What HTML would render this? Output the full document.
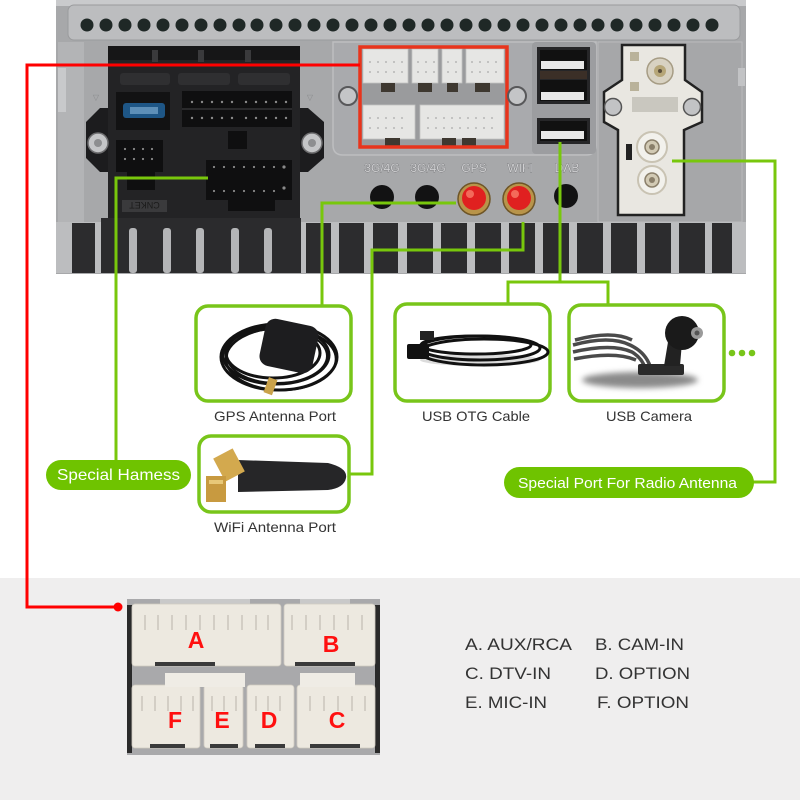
<!DOCTYPE html>
<html><head><meta charset="utf-8"><style>
html,body{margin:0;padding:0;background:#fff;}
svg{display:block;}
text{font-family:"Liberation Sans",Arial,sans-serif;}
</style></head><body>
<svg width="800" height="800" viewBox="0 0 800 800" xmlns="http://www.w3.org/2000/svg">
<defs>
<filter id="blur2" x="-20%" y="-50%" width="140%" height="200%"><feGaussianBlur stdDeviation="3"/></filter>
</defs>
<!-- bottom grey area -->
<rect x="0" y="578" width="800" height="222" fill="#efeeee"/>

<!-- ===== DEVICE ===== -->
<rect x="56" y="0" width="690" height="274" fill="#a7a8aa"/>
<rect x="56" y="0" width="690" height="6" fill="#c9cacc"/>
<rect x="68" y="5" width="672" height="35" rx="6" fill="#bcbdbf" stroke="#9a9b9d" stroke-width="1"/>
<g fill="#1f2826">
<circle cx="87" cy="25" r="6.5"/><circle cx="106" cy="25" r="6.5"/><circle cx="125" cy="25" r="6.5"/><circle cx="144" cy="25" r="6.5"/><circle cx="163" cy="25" r="6.5"/><circle cx="182" cy="25" r="6.5"/><circle cx="201" cy="25" r="6.5"/><circle cx="220" cy="25" r="6.5"/><circle cx="239" cy="25" r="6.5"/><circle cx="257" cy="25" r="6.5"/><circle cx="276" cy="25" r="6.5"/><circle cx="295" cy="25" r="6.5"/><circle cx="314" cy="25" r="6.5"/><circle cx="333" cy="25" r="6.5"/><circle cx="352" cy="25" r="6.5"/><circle cx="371" cy="25" r="6.5"/><circle cx="390" cy="25" r="6.5"/><circle cx="409" cy="25" r="6.5"/><circle cx="428" cy="25" r="6.5"/><circle cx="447" cy="25" r="6.5"/><circle cx="466" cy="25" r="6.5"/><circle cx="485" cy="25" r="6.5"/><circle cx="504" cy="25" r="6.5"/><circle cx="523" cy="25" r="6.5"/><circle cx="542" cy="25" r="6.5"/><circle cx="561" cy="25" r="6.5"/><circle cx="580" cy="25" r="6.5"/><circle cx="598" cy="25" r="6.5"/><circle cx="617" cy="25" r="6.5"/><circle cx="636" cy="25" r="6.5"/><circle cx="655" cy="25" r="6.5"/><circle cx="674" cy="25" r="6.5"/><circle cx="693" cy="25" r="6.5"/><circle cx="712" cy="25" r="6.5"/>
</g>
<!-- left light strip -->
<rect x="58" y="42" width="26" height="180" fill="#b3b4b6"/>
<rect x="58" y="68" width="8" height="44" fill="#c8c9cb"/>
<!-- recessed right panel -->
<path d="M333 42 H596 V145 Q596 155 586 155 H343 Q333 155 333 145 Z" fill="#a9aaad" stroke="#bdbec0" stroke-width="1.5"/>
<path d="M598 42 H742 V222 H598 Z" fill="#a6a7a9" stroke="#b9babc" stroke-width="1"/>
<rect x="738" y="68" width="7" height="18" fill="#c2c3c5"/>

<!-- left black block -->
<polygon points="100,108 308,108 324,122 324,158 308,172 100,172 86,158 86,122" fill="#1c1c1e"/>
<rect x="108" y="46" width="192" height="176" fill="#232325"/>
<rect x="108" y="46" width="192" height="14" fill="#161617"/>
<rect x="152" y="50" width="6" height="12" fill="#3a3a3c"/><rect x="198" y="50" width="6" height="12" fill="#3a3a3c"/><rect x="245" y="50" width="6" height="12" fill="#3a3a3c"/>
<rect x="120" y="73" width="50" height="12" rx="3" fill="#2f2f31"/><rect x="178" y="73" width="52" height="12" rx="3" fill="#2f2f31"/><rect x="238" y="73" width="52" height="12" rx="3" fill="#2f2f31"/>
<rect x="116" y="92" width="54" height="38" fill="#121213"/>
<rect x="123" y="103" width="42" height="15" rx="3" fill="#1e5686"/>
<rect x="130" y="107" width="28" height="7" fill="#5d8fb8"/>
<rect x="182" y="91" width="110" height="36" fill="#0f0f10"/>
<line x1="182" y1="109" x2="292" y2="109" stroke="#2a2a2c" stroke-width="2"/>
<g fill="#8a8a8a">
<circle cx="192" cy="102" r="1.2"/><circle cx="202" cy="102" r="1.2"/><circle cx="212" cy="102" r="1.2"/><circle cx="222" cy="102" r="1.2"/><circle cx="232" cy="102" r="1.2"/><circle cx="246" cy="102" r="1.2"/><circle cx="256" cy="102" r="1.2"/><circle cx="266" cy="102" r="1.2"/><circle cx="276" cy="102" r="1.2"/><circle cx="286" cy="102" r="1.2"/>
<circle cx="192" cy="118" r="1.2"/><circle cx="202" cy="118" r="1.2"/><circle cx="212" cy="118" r="1.2"/><circle cx="222" cy="118" r="1.2"/><circle cx="232" cy="118" r="1.2"/><circle cx="246" cy="118" r="1.2"/><circle cx="256" cy="118" r="1.2"/><circle cx="266" cy="118" r="1.2"/><circle cx="276" cy="118" r="1.2"/><circle cx="286" cy="118" r="1.2"/>
</g>
<rect x="228" y="131" width="19" height="18" fill="#0f0f10"/>
<rect x="116" y="140" width="47" height="32" fill="#0f0f10"/>
<rect x="127" y="172" width="28" height="18" fill="#0f0f10"/>
<g fill="#8a8a8a"><circle cx="125" cy="149" r="1.1"/><circle cx="134" cy="149" r="1.1"/><circle cx="143" cy="149" r="1.1"/><circle cx="152" cy="149" r="1.1"/><circle cx="125" cy="159" r="1.1"/><circle cx="134" cy="159" r="1.1"/><circle cx="143" cy="159" r="1.1"/><circle cx="152" cy="159" r="1.1"/></g>
<rect x="206" y="160" width="86" height="40" fill="#0f0f10"/>
<rect x="228" y="200" width="47" height="11" fill="#0f0f10"/>
<g fill="#8a8a8a"><circle cx="214" cy="167" r="1.1"/><circle cx="224" cy="167" r="1.1"/><circle cx="234" cy="167" r="1.1"/><circle cx="244" cy="167" r="1.1"/><circle cx="254" cy="167" r="1.1"/><circle cx="264" cy="167" r="1.1"/><circle cx="274" cy="167" r="1.1"/><circle cx="284" cy="167" r="1.6"/>
<circle cx="214" cy="191" r="1.1"/><circle cx="224" cy="191" r="1.1"/><circle cx="234" cy="191" r="1.1"/><circle cx="244" cy="191" r="1.1"/><circle cx="254" cy="191" r="1.1"/><circle cx="264" cy="191" r="1.1"/><circle cx="274" cy="191" r="1.1"/><circle cx="284" cy="188" r="1.6"/></g>
<rect x="122" y="200" width="45" height="12" fill="#3a3a3c"/>
<text x="144.5" y="210" font-size="9" fill="#1a1a1a" text-anchor="middle" transform="rotate(180 144.5 206)">CNKET</text>
<circle cx="98" cy="143" r="10" fill="#c4c5c7" stroke="#6d6d6f" stroke-width="1.5"/>
<circle cx="98" cy="143" r="4" fill="#8d8e90"/>
<circle cx="312" cy="143" r="10" fill="#c4c5c7" stroke="#6d6d6f" stroke-width="1.5"/>
<circle cx="312" cy="143" r="4" fill="#8d8e90"/>
<text x="96" y="100" font-size="8" fill="#8a8b8d" text-anchor="middle">▽</text>
<text x="310" y="100" font-size="8" fill="#8a8b8d" text-anchor="middle">▽</text>

<!-- red frame connectors -->
<rect x="360" y="47" width="147" height="100" fill="#9a9b9d"/>
<g fill="#e6e6e4" stroke="#c4c4c2" stroke-width="0.8">
<rect x="363" y="49" width="45" height="34"/><rect x="412" y="49" width="26" height="34"/><rect x="442" y="49" width="20" height="34"/><rect x="466" y="49" width="38" height="34"/>
<rect x="363" y="105" width="52" height="34"/><rect x="420" y="105" width="84" height="34"/>
</g>
<g fill="#3e3830"><rect x="381" y="83" width="14" height="9"/><rect x="418" y="83" width="14" height="9"/><rect x="447" y="83" width="11" height="9"/><rect x="475" y="83" width="15" height="9"/>
<rect x="385" y="138" width="15" height="8"/><rect x="442" y="138" width="14" height="8"/><rect x="462" y="138" width="14" height="8"/></g>
<g fill="#b8b8b6">
<circle cx="370" cy="62" r="1"/><circle cx="378" cy="62" r="1"/><circle cx="386" cy="62" r="1"/><circle cx="394" cy="62" r="1"/><circle cx="402" cy="62" r="1"/><circle cx="418" cy="62" r="1"/><circle cx="426" cy="62" r="1"/><circle cx="434" cy="62" r="1"/><circle cx="448" cy="62" r="1"/><circle cx="456" cy="62" r="1"/><circle cx="472" cy="62" r="1"/><circle cx="480" cy="62" r="1"/><circle cx="488" cy="62" r="1"/><circle cx="496" cy="62" r="1"/>
<circle cx="370" cy="72" r="1"/><circle cx="378" cy="72" r="1"/><circle cx="386" cy="72" r="1"/><circle cx="394" cy="72" r="1"/><circle cx="402" cy="72" r="1"/><circle cx="418" cy="72" r="1"/><circle cx="426" cy="72" r="1"/><circle cx="434" cy="72" r="1"/><circle cx="448" cy="72" r="1"/><circle cx="456" cy="72" r="1"/><circle cx="472" cy="72" r="1"/><circle cx="480" cy="72" r="1"/><circle cx="488" cy="72" r="1"/><circle cx="496" cy="72" r="1"/>
<circle cx="370" cy="118" r="1"/><circle cx="378" cy="118" r="1"/><circle cx="386" cy="118" r="1"/><circle cx="394" cy="118" r="1"/><circle cx="402" cy="118" r="1"/><circle cx="428" cy="118" r="1"/><circle cx="436" cy="118" r="1"/><circle cx="444" cy="118" r="1"/><circle cx="452" cy="118" r="1"/><circle cx="460" cy="118" r="1"/><circle cx="468" cy="118" r="1"/><circle cx="476" cy="118" r="1"/><circle cx="484" cy="118" r="1"/><circle cx="492" cy="118" r="1"/>
<circle cx="370" cy="128" r="1"/><circle cx="378" cy="128" r="1"/><circle cx="386" cy="128" r="1"/><circle cx="394" cy="128" r="1"/><circle cx="402" cy="128" r="1"/><circle cx="428" cy="128" r="1"/><circle cx="436" cy="128" r="1"/><circle cx="444" cy="128" r="1"/><circle cx="452" cy="128" r="1"/><circle cx="460" cy="128" r="1"/><circle cx="468" cy="128" r="1"/><circle cx="476" cy="128" r="1"/><circle cx="484" cy="128" r="1"/><circle cx="492" cy="128" r="1"/>
</g>
<rect x="360" y="47" width="147" height="100" fill="none" stroke="#e8341c" stroke-width="3.5"/>
<circle cx="348" cy="96" r="9" fill="#c4c5c7" stroke="#58585a" stroke-width="2"/>
<circle cx="517" cy="96" r="9" fill="#c4c5c7" stroke="#58585a" stroke-width="2"/>

<!-- USB -->
<rect x="532" y="42" width="64" height="112" rx="4" fill="#9c9da0"/>
<rect x="537" y="47" width="53" height="57" fill="#262628"/>
<rect x="540" y="50" width="47" height="20" fill="#111"/>
<rect x="541" y="61" width="43" height="8" fill="#e8e8e8"/>
<rect x="540" y="71" width="47" height="8" fill="#3b2f27"/>
<rect x="540" y="80" width="47" height="21" fill="#111"/>
<rect x="541" y="92" width="43" height="8" fill="#e8e8e8"/>
<rect x="537" y="118" width="53" height="26" fill="#262628"/>
<rect x="540" y="121" width="47" height="20" fill="#111"/>
<rect x="541" y="131" width="43" height="8" fill="#e8e8e8"/>

<!-- antenna module -->
<path d="M622 45 H685 V80 L702 92 V122 L684 130 V215 H618 V130 L604 122 V92 L622 80 Z" fill="#e9e7e1" stroke="#222" stroke-width="2.5"/>
<rect x="630" y="52" width="9" height="9" fill="#b9b29a"/>
<rect x="630" y="82" width="9" height="9" fill="#b9b29a"/>
<circle cx="660" cy="71" r="13" fill="#d8d2c2" stroke="#a69c84" stroke-width="1.5"/>
<circle cx="660" cy="71" r="6" fill="#b6a678"/>
<circle cx="660" cy="71" r="2" fill="#5a4e3a"/>
<rect x="632" y="97" width="46" height="15" fill="#c9c7bf"/>
<circle cx="613" cy="107" r="8.5" fill="#c2c3c5" stroke="#555" stroke-width="1.5"/>
<circle cx="692" cy="107" r="8.5" fill="#c2c3c5" stroke="#555" stroke-width="1.5"/>
<rect x="626" y="144" width="6" height="16" fill="#222"/>
<circle cx="652" cy="147" r="15" fill="#f2f1ec" stroke="#c9c3b3" stroke-width="2"/>
<circle cx="652" cy="147" r="7" fill="#d2cab4" stroke="#8a7f6a" stroke-width="1.5"/>
<circle cx="652" cy="147" r="3" fill="#8a7f6a"/>
<circle cx="652" cy="180" r="14" fill="#f2f1ec" stroke="#c9c3b3" stroke-width="2"/>
<circle cx="652" cy="180" r="7" fill="#d2cab4" stroke="#8a7f6a" stroke-width="1.5"/>
<circle cx="652" cy="180" r="3" fill="#8a7f6a"/>

<!-- port labels -->
<g font-size="12" fill="#d0d0d2" text-anchor="middle" stroke="#6f7073" stroke-width="0.7" paint-order="stroke">
<text x="382" y="172">3G/4G</text><text x="428" y="172">3G/4G</text><text x="474" y="172">GPS</text><text x="520" y="172">WIFI</text><text x="567" y="172">DAB</text>
</g>
<circle cx="382" cy="197" r="12" fill="#121213"/>
<circle cx="427" cy="197" r="12" fill="#121213"/>
<circle cx="566" cy="196" r="12" fill="#121213"/>
<circle cx="474" cy="199" r="16" fill="#b8944a" stroke="#6e5526" stroke-width="1.5"/>
<circle cx="474" cy="198" r="12" fill="#e02020"/>
<circle cx="470" cy="194" r="4" fill="#f36a5a"/>
<circle cx="519" cy="199" r="16" fill="#b8944a" stroke="#6e5526" stroke-width="1.5"/>
<circle cx="519" cy="198" r="12" fill="#e02020"/>
<circle cx="515" cy="194" r="4" fill="#f36a5a"/>

<!-- vents -->
<rect x="56" y="222" width="690" height="51" fill="#bcbdbf"/>
<rect x="101" y="218" width="200" height="55" fill="#2b2b2d"/>
<g fill="#b4b5b7"><rect x="129" y="228" width="8" height="45" rx="3"/><rect x="163" y="228" width="8" height="45" rx="3"/><rect x="196" y="228" width="8" height="45" rx="3"/><rect x="231" y="228" width="8" height="45" rx="3"/><rect x="264" y="228" width="8" height="45" rx="3"/></g>
<g fill="#2c2c2e">
<rect x="72" y="223" width="23" height="50"/>
<rect x="306" y="223" width="25" height="50"/><rect x="339" y="223" width="25" height="50"/><rect x="373" y="223" width="25" height="50"/>
<rect x="407" y="223" width="26" height="50"/><rect x="441" y="223" width="26" height="50"/><rect x="475" y="223" width="26" height="50"/><rect x="509" y="223" width="26" height="50"/><rect x="543" y="223" width="26" height="50"/><rect x="577" y="223" width="26" height="50"/><rect x="611" y="223" width="26" height="50"/><rect x="645" y="223" width="26" height="50"/><rect x="679" y="223" width="26" height="50"/><rect x="712" y="223" width="20" height="50"/>
</g>

<!-- ===== CONNECTOR LINES ===== -->
<polyline points="360,65 27,65 27,607 118,607" fill="none" stroke="#ff0000" stroke-width="3"/>
<circle cx="118" cy="607" r="4.5" fill="#ff0000"/>
<g fill="none" stroke="#78c70c" stroke-width="3">
<polyline points="208,178 116,178 116,462"/>
<polyline points="456,203 322,203 322,307"/>
<polyline points="523,222 523,250 372,250 372,474 348,474"/>
<polyline points="560,142 560,282"/>
<polyline points="508,307 508,282 608,282 608,307"/>
<polyline points="672,161 775,161 775,482 752,482"/>
</g>

<!-- ===== BOXES ===== -->
<g fill="#fff" stroke="#78c51a" stroke-width="3.5">
<rect x="196" y="306" width="155" height="95" rx="12"/>
<rect x="395" y="304" width="155" height="97" rx="12"/>
<rect x="569" y="305" width="155" height="96" rx="12"/>
<rect x="199" y="436" width="150" height="76" rx="12"/>
</g>
<!-- GPS antenna -->
<g fill="none" stroke="#121212">
<ellipse cx="279" cy="357" rx="58" ry="33" stroke-width="3"/>
<ellipse cx="276" cy="355" rx="53" ry="29" stroke-width="3"/>
<ellipse cx="281" cy="359" rx="55" ry="31" stroke-width="2.5"/>
<ellipse cx="273" cy="353" rx="47" ry="25" stroke-width="3"/>
<ellipse cx="277" cy="356" rx="50" ry="27" stroke-width="2"/>
</g>
<rect x="262" y="322" width="54" height="48" rx="10" fill="#1d1d1f" transform="rotate(12 289 346)"/>
<rect x="266" y="378" width="9" height="16" fill="#caa24a" transform="rotate(20 270 386)"/>
<!-- OTG cable -->
<ellipse cx="480" cy="360" rx="60" ry="6" fill="#dcdcdc"/>
<g fill="none" stroke="#111" stroke-width="3">
<ellipse cx="480" cy="348" rx="60" ry="12"/>
<ellipse cx="484" cy="352" rx="64" ry="13"/>
<ellipse cx="476" cy="345" rx="55" ry="9"/>
</g>
<rect x="407" y="344" width="22" height="15" rx="2" fill="#111"/>
<rect x="420" y="331" width="14" height="9" fill="#222"/>
<!-- camera -->
<ellipse cx="640" cy="380" rx="58" ry="8" fill="#8a8a8a" filter="url(#blur2)"/>
<g fill="none" stroke="#4a4a4a" stroke-width="3.5">
<path d="M573 345 Q610 335 630 345 Q645 352 650 366"/>
<path d="M573 352 Q612 343 632 352 Q642 358 645 368"/>
<path d="M574 359 Q615 351 636 360"/>
<path d="M575 340 Q612 330 632 340"/>
</g>
<rect x="638" y="364" width="46" height="11" rx="2" fill="#2a2a2a"/>
<polygon points="668,342 682,342 680,366 664,366" fill="#222"/>
<circle cx="682" cy="333" r="17" fill="#1a1a1a"/>
<circle cx="697" cy="333" r="6" fill="#9a9a9a"/>
<circle cx="697" cy="333" r="2.5" fill="#555"/>
<!-- wifi antenna -->
<path d="M238 460 L328 463 Q348 468 346 478 Q344 488 328 490 L238 492 Z" fill="#262628"/>
<rect x="218" y="452" width="22" height="26" fill="#d3a94e" transform="rotate(-28 229 465)"/>
<rect x="206" y="476" width="20" height="26" fill="#c89a40"/>
<rect x="209" y="480" width="14" height="4" fill="#e8c878"/>

<!-- box labels -->
<g font-size="14" fill="#333" text-anchor="middle">
<text x="275" y="421" textLength="122" lengthAdjust="spacingAndGlyphs">GPS Antenna Port</text>
<text x="476" y="421" textLength="108" lengthAdjust="spacingAndGlyphs">USB OTG Cable</text>
<text x="649" y="421" textLength="86" lengthAdjust="spacingAndGlyphs">USB Camera</text>
<text x="275" y="532" textLength="122" lengthAdjust="spacingAndGlyphs">WiFi Antenna Port</text>
</g>
<g fill="#78c51a"><circle cx="732" cy="353" r="3.3"/><circle cx="742" cy="353" r="3.3"/><circle cx="752" cy="353" r="3.3"/></g>

<!-- pills -->
<rect x="46" y="460" width="145" height="30" rx="15" fill="#6fc300"/>
<text x="118.5" y="480" font-size="16" fill="#fff" text-anchor="middle" textLength="123" lengthAdjust="spacingAndGlyphs">Special Hamess</text>
<rect x="504" y="467" width="250" height="31" rx="15.5" fill="#6fc300"/>
<text x="627.5" y="488" font-size="15" fill="#fff" text-anchor="middle" textLength="219" lengthAdjust="spacingAndGlyphs">Special Port For Radio Antenna</text>

<!-- ===== CONNECTOR PHOTO ===== -->
<rect x="127" y="599" width="253" height="156" fill="#a9a9ab"/>
<rect x="127" y="605" width="5" height="148" fill="#2a2a2a"/>
<rect x="375" y="605" width="5" height="148" fill="#2a2a2a"/>
<rect x="160" y="599" width="90" height="6" fill="#c9c9c9"/>
<rect x="300" y="599" width="50" height="6" fill="#c9c9c9"/>
<g fill="#ede9e0" stroke="#cfcac0" stroke-width="0.8">
<rect x="132" y="604" width="149" height="62" rx="3"/>
<rect x="284" y="604" width="91" height="62" rx="3"/>
<rect x="132" y="685" width="68" height="63" rx="3"/>
<rect x="204" y="685" width="39" height="63" rx="3"/>
<rect x="247" y="685" width="47" height="63" rx="3"/>
<rect x="297" y="685" width="78" height="63" rx="3"/>
</g>
<g fill="#efece5"><rect x="165" y="673" width="80" height="14"/><rect x="300" y="673" width="55" height="14"/></g>
<g fill="#3a3a3a"><rect x="155" y="662" width="60" height="4"/><rect x="295" y="662" width="60" height="4"/><rect x="150" y="744" width="35" height="4"/><rect x="210" y="744" width="28" height="4"/><rect x="255" y="744" width="30" height="4"/><rect x="310" y="744" width="50" height="4"/></g>
<g stroke="#b9b4aa" stroke-width="1">
<line x1="145" y1="615" x2="145" y2="630"/><line x1="158" y1="615" x2="158" y2="630"/><line x1="172" y1="615" x2="172" y2="630"/><line x1="186" y1="615" x2="186" y2="630"/><line x1="200" y1="615" x2="200" y2="630"/><line x1="214" y1="615" x2="214" y2="630"/><line x1="228" y1="615" x2="228" y2="630"/><line x1="242" y1="615" x2="242" y2="630"/><line x1="256" y1="615" x2="256" y2="630"/><line x1="268" y1="615" x2="268" y2="630"/>
<line x1="292" y1="615" x2="292" y2="630"/><line x1="306" y1="615" x2="306" y2="630"/><line x1="320" y1="615" x2="320" y2="630"/><line x1="334" y1="615" x2="334" y2="630"/><line x1="348" y1="615" x2="348" y2="630"/><line x1="362" y1="615" x2="362" y2="630"/>
<line x1="142" y1="696" x2="142" y2="711"/><line x1="155" y1="696" x2="155" y2="711"/><line x1="168" y1="696" x2="168" y2="711"/><line x1="181" y1="696" x2="181" y2="711"/><line x1="193" y1="696" x2="193" y2="711"/>
<line x1="212" y1="696" x2="212" y2="711"/><line x1="224" y1="696" x2="224" y2="711"/><line x1="236" y1="696" x2="236" y2="711"/>
<line x1="256" y1="696" x2="256" y2="711"/><line x1="268" y1="696" x2="268" y2="711"/><line x1="280" y1="696" x2="280" y2="711"/>
<line x1="310" y1="696" x2="310" y2="711"/><line x1="324" y1="696" x2="324" y2="711"/><line x1="338" y1="696" x2="338" y2="711"/><line x1="352" y1="696" x2="352" y2="711"/><line x1="365" y1="696" x2="365" y2="711"/>
</g>
<g font-size="23" font-weight="bold" fill="#ff1010" text-anchor="middle">
<text x="196" y="648">A</text><text x="331" y="652">B</text>
<text x="175" y="728">F</text><text x="222" y="728">E</text><text x="269" y="728">D</text><text x="337" y="728">C</text>
</g>

<!-- legend -->
<g font-size="17" fill="#333">
<text x="465" y="650" textLength="107" lengthAdjust="spacingAndGlyphs">A. AUX/RCA</text>
<text x="595" y="650" textLength="89" lengthAdjust="spacingAndGlyphs">B. CAM-IN</text>
<text x="465" y="679" textLength="86" lengthAdjust="spacingAndGlyphs">C. DTV-IN</text>
<text x="595" y="679" textLength="95" lengthAdjust="spacingAndGlyphs">D. OPTION</text>
<text x="465" y="708" textLength="82" lengthAdjust="spacingAndGlyphs">E. MIC-IN</text>
<text x="597" y="708" textLength="92" lengthAdjust="spacingAndGlyphs">F. OPTION</text>
</g>
</svg>
</body></html>
